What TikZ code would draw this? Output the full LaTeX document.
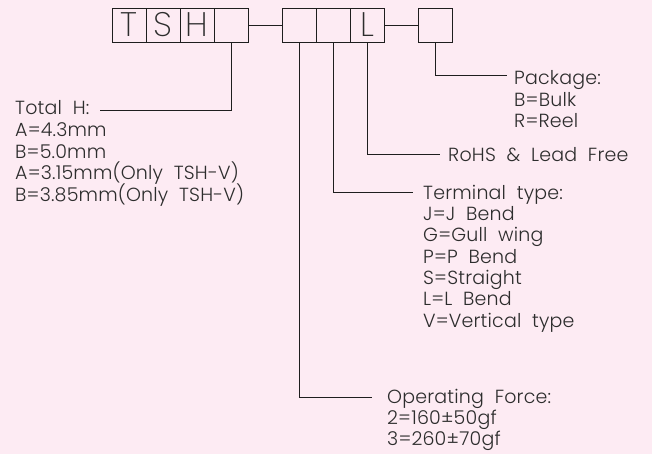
\documentclass[tikz,border=0pt]{standalone}
\usepackage{fontspec}
\setmainfont{Poppins}[UprightFont={* Light},WordSpace={2},LetterSpace=1]
\newfontfamily\boxfont{Poppins}[UprightFont={* ExtraLight}]
\definecolor{bg}{RGB}{253,235,243}
\definecolor{ink}{RGB}{30,30,30}
\definecolor{txt}{RGB}{45,45,45}
\begin{document}
\begin{tikzpicture}[x=1pt,y=-1pt,
  cell/.style={draw=ink, line width=0.9pt, minimum width=34pt, minimum height=34pt, inner sep=0pt, font=\boxfont\fontsize{34}{34}\selectfont, text=txt},
  lbl/.style={anchor=base west, inner sep=0pt, font=\fontsize{19}{21}\selectfont, text=txt},
  wire/.style={draw=ink, line width=0.9pt}]
\fill[bg] (0,0) rectangle (652,454);
\useasboundingbox (0,0) rectangle (652,454);
% code boxes
\node[cell] (c1) at (129,25) {T};
\node[cell] (c2) at (163,25) {S};
\node[cell] (c3) at (197,25) {H};
\node[cell] (c4) at (231,25) {};
\node[cell] (c5) at (299,25) {};
\node[cell] (c6) at (333,25) {};
\node[cell] (c7) at (367,25) {L};
\node[cell] (c8) at (435,25) {};
\draw[wire] (c4.east) -- (c5.west);
\draw[wire] (c7.east) -- (c8.west);
% Total H
\node[lbl] (th0) at (15,115) {Total H:};
\node[lbl] (th1) at (15,136.7) {A=4.3mm};
\node[lbl] (th2) at (15,158.3) {B=5.0mm};
\node[lbl] (th3) at (15,180) {A=3.15mm(Only TSH-V)};
\node[lbl] (th4) at (15,201.7) {B=3.85mm(Only TSH-V)};
\coordinate (thEnd) at (100,110.7);
\draw[wire] (c4.south) |- (thEnd);
% Package
\node[lbl] (pk0) at (514,85) {Package:};
\node[lbl] (pk1) at (514,106.5) {B=Bulk};
\node[lbl] (pk2) at (514,128) {R=Reel};
\coordinate (pkEnd) at (507,75.7);
\draw[wire] (c8.south) |- (pkEnd);
% RoHS
\node[lbl] (ro0) at (448,162) {RoHS \& Lead Free};
\coordinate (roEnd) at (440,154);
\draw[wire] (c7.south) |- (roEnd);
% Terminal
\node[lbl] (tt0) at (423,199.3) {Terminal type:};
\node[lbl] (tt1) at (423,220.6) {J=J Bend};
\node[lbl] (tt2) at (423,241.9) {G=Gull wing};
\node[lbl] (tt3) at (423,263.2) {P=P Bend};
\node[lbl] (tt4) at (423,284.5) {S=Straight};
\node[lbl] (tt5) at (423,305.8) {L=L Bend};
\node[lbl] (tt6) at (423,327.1) {V=Vertical type};
\coordinate (ttEnd) at (413,192.3);
\draw[wire] (c6.south) |- (ttEnd);
% Operating force
\node[lbl] (of0) at (387,403.3) {Operating Force:};
\node[lbl] (of1) at (387,424.6) {2=160±50gf};
\node[lbl] (of2) at (387,445.9) {3=260±70gf};
\coordinate (ofEnd) at (372,397.7);
\draw[wire] (c5.south) |- (ofEnd);
\end{tikzpicture}
\end{document}
